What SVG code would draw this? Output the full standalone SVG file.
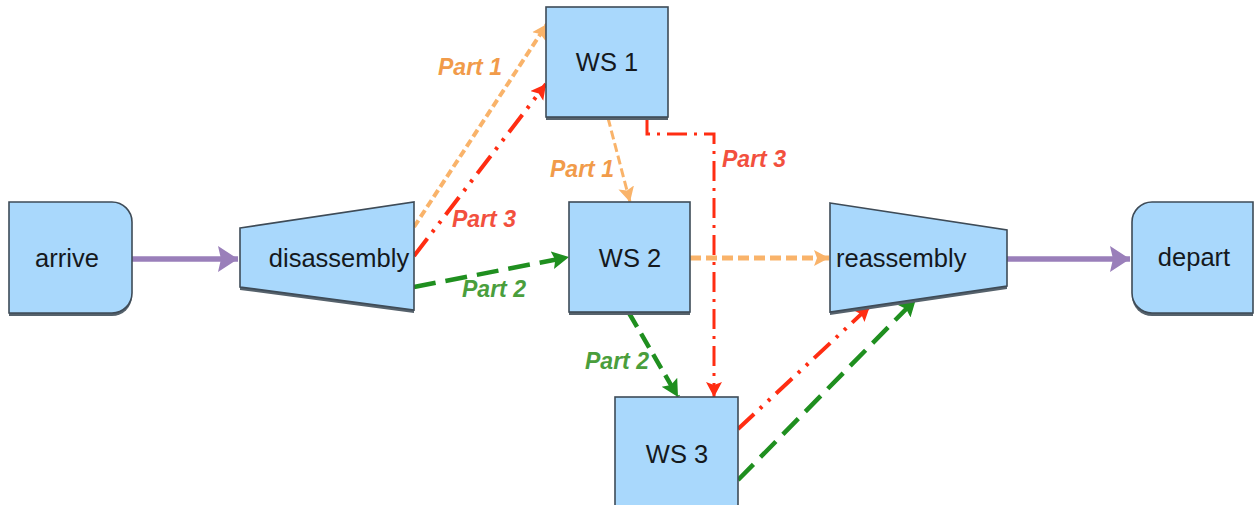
<svg xmlns="http://www.w3.org/2000/svg" width="1255" height="505" viewBox="0 0 1255 505">
  <style>
    .node { fill: #a9d8fc; stroke: #3e4b57; stroke-width: 1.6; }
    .shadow { fill: #56626c; }
    .ntext { font-family: "Liberation Sans", Arial, sans-serif; font-size: 25.5px; fill: #15191d; }
    .lbl { font-family: "Liberation Sans", Arial, sans-serif; font-size: 23px; font-style: italic; font-weight: bold; }
    .c { fill: none; }
    .flow { stroke: #9a7fba; stroke-width: 5.5; }
    .or { stroke: #f9b36a; }
    .rd { stroke: #ff2d12; }
    .gr { stroke: #1f8f1f; }
    .lor { fill: #f19b4a; }
    .lrd { fill: #f2503e; }
    .lgr { fill: #4a9e3c; }
  </style>
  <defs>
    <marker id="mPurple" markerUnits="userSpaceOnUse" markerWidth="22" markerHeight="28" refX="20" refY="13" orient="auto">
      <path d="M0,0 L20,13 L0,26 L3,13 Z" fill="#9a7fba"/>
    </marker>
    <marker id="mOrange" markerUnits="userSpaceOnUse" markerWidth="18" markerHeight="18" refX="15" refY="8" orient="auto">
      <path d="M0,0 L15,8 L0,16 L3,8 Z" fill="#f9b36a"/>
    </marker>
    <marker id="mRed" markerUnits="userSpaceOnUse" markerWidth="18" markerHeight="18" refX="15" refY="8" orient="auto">
      <path d="M0,0 L15,8 L0,16 L3,8 Z" fill="#ff2d12"/>
    </marker>
    <marker id="mGreen" markerUnits="userSpaceOnUse" markerWidth="20" markerHeight="20" refX="17" refY="9" orient="auto">
      <path d="M0,0 L17,9 L0,18 L3,9 Z" fill="#1f8f1f"/>
    </marker>
  </defs>

  <rect width="1255" height="505" fill="#ffffff"/>

  <!-- connectors -->
  <g id="connectors">
    <line class="c flow" x1="132" y1="259" x2="238" y2="259" marker-end="url(#mPurple)"/>
    <line class="c flow" x1="1007" y1="259" x2="1130" y2="259" marker-end="url(#mPurple)"/>

    <!-- Part 1 -->
    <line class="c or" stroke-width="4" stroke-dasharray="8 4" x1="414" y1="227" x2="547" y2="24" marker-end="url(#mOrange)"/>
    <line class="c or" stroke-width="3" stroke-dasharray="9 4" x1="608" y1="118" x2="630" y2="202" marker-end="url(#mOrange)"/>
    <line class="c or" stroke-width="5" stroke-dasharray="11 5" x1="690" y1="258" x2="829" y2="258" marker-end="url(#mOrange)"/>

    <!-- Part 3 -->
    <line class="c rd" stroke-width="4" stroke-dasharray="22 8 3 8 3 8" x1="414" y1="256" x2="546" y2="84" marker-end="url(#mRed)"/>
    <polyline class="c rd" stroke-width="3" stroke-dasharray="20 7 3 7" points="647,117 647,134 714,134 714,397" marker-end="url(#mRed)"/>
    <line class="c rd" stroke-width="4" stroke-dasharray="22 8 3 8 3 8" x1="738" y1="429" x2="870" y2="306" marker-end="url(#mRed)"/>

    <!-- Part 2 -->
    <line class="c gr" stroke-width="4.5" stroke-dasharray="22 10" x1="414" y1="287" x2="569" y2="257" marker-end="url(#mGreen)"/>
    <line class="c gr" stroke-width="4.5" stroke-dasharray="16 8" x1="629" y1="313" x2="678" y2="397" marker-end="url(#mGreen)"/>
    <line class="c gr" stroke-width="4.5" stroke-dasharray="22 10" x1="738" y1="480" x2="916" y2="299" marker-end="url(#mGreen)"/>
  </g>

  <!-- connector labels -->
  <g id="labels">
    <text class="lbl lor" x="438" y="75">Part 1</text>
    <text class="lbl lrd" x="452" y="227">Part 3</text>
    <text class="lbl lgr" x="462" y="297">Part 2</text>
    <text class="lbl lor" x="550" y="177">Part 1</text>
    <text class="lbl lrd" x="722" y="167">Part 3</text>
    <text class="lbl lgr" x="585" y="369">Part 2</text>
  </g>

  <!-- nodes -->
  <g id="arrive">
    <path class="shadow" d="M9,205 H112 A20,20 0 0 1 132,225 V296 A20,20 0 0 1 112,316 H9 Z"/>
    <path class="node" d="M9,202 H112 A20,20 0 0 1 132,222 V293 A20,20 0 0 1 112,313 H9 Z"/>
    <text class="ntext" x="67" y="267" text-anchor="middle">arrive</text>
  </g>

  <g id="disassembly">
    <path class="shadow" d="M240,231 L414,205 L414,313 L240,290 Z"/>
    <path class="node" d="M240,228 L414,202 L414,310 L240,287 Z"/>
    <text class="ntext" x="339" y="267" text-anchor="middle">disassembly</text>
  </g>

  <g id="ws1">
    <rect class="shadow" x="546" y="10" width="122" height="110"/>
    <rect class="node" x="546" y="7" width="122" height="110"/>
    <text class="ntext" x="607" y="71" text-anchor="middle">WS 1</text>
  </g>

  <g id="ws2">
    <rect class="shadow" x="569" y="205" width="121" height="110"/>
    <rect class="node" x="569" y="202" width="121" height="110"/>
    <text class="ntext" x="630" y="267" text-anchor="middle">WS 2</text>
  </g>

  <g id="ws3">
    <rect class="node" x="615" y="397" width="123" height="115"/>
    <text class="ntext" x="677" y="463" text-anchor="middle">WS 3</text>
  </g>

  <g id="reassembly">
    <path class="shadow" d="M830,206 L1007,233 L1007,289 L830,315 Z"/>
    <path class="node" d="M830,203 L1007,230 L1007,286 L830,312 Z"/>
    <text class="ntext" x="836" y="267">reassembly</text>
  </g>

  <g id="depart">
    <path class="shadow" d="M1253,205 H1152 A20,20 0 0 0 1132,225 V296 A20,20 0 0 0 1152,316 H1253 Z"/>
    <path class="node" d="M1253,202 H1152 A20,20 0 0 0 1132,222 V293 A20,20 0 0 0 1152,313 H1253 Z"/>
    <text class="ntext" x="1194" y="266" text-anchor="middle">depart</text>
  </g>
</svg>
